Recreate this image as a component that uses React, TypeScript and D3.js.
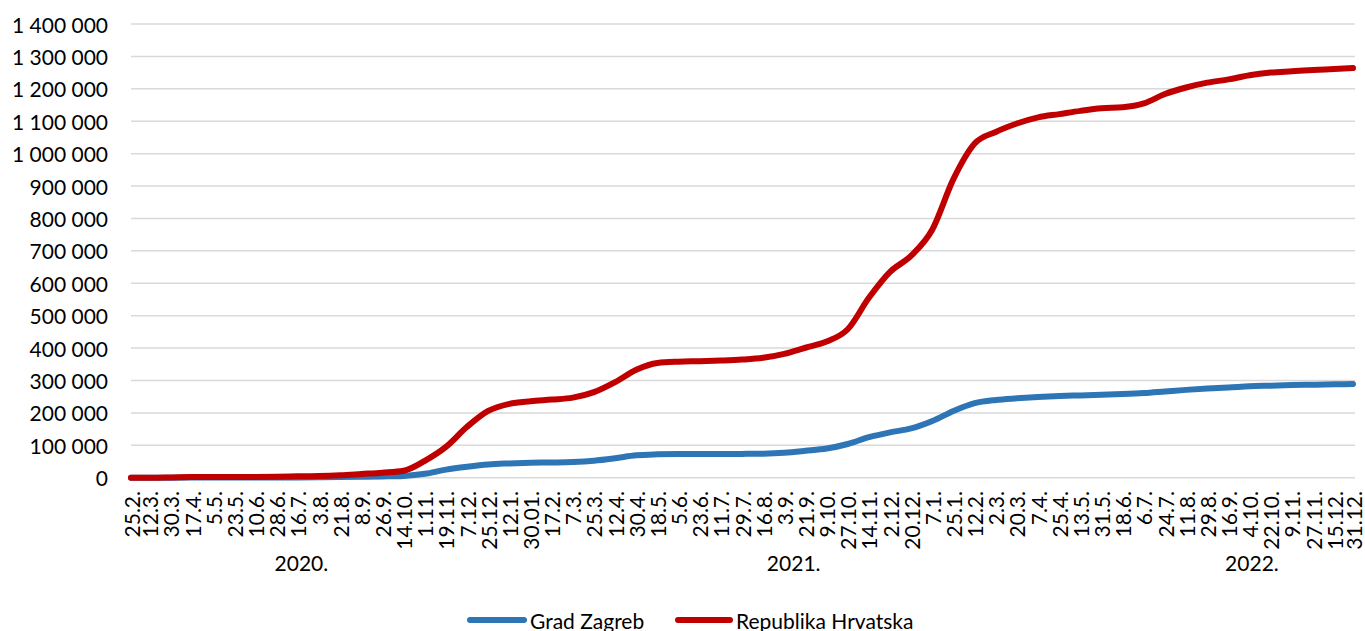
import * as d3 from 'd3';

// sample dates (same as the category tick labels)
const dates = [
  '2020-02-25', '2020-03-12', '2020-03-30', '2020-04-17', '2020-05-05', '2020-05-23',
  '2020-06-10', '2020-06-28', '2020-07-16', '2020-08-03', '2020-08-21', '2020-09-08',
  '2020-09-26', '2020-10-14', '2020-11-01', '2020-11-19', '2020-12-07', '2020-12-25',
  '2021-01-12', '2021-01-30', '2021-02-17', '2021-03-07', '2021-03-25', '2021-04-12',
  '2021-04-30', '2021-05-18', '2021-06-05', '2021-06-23', '2021-07-11', '2021-07-29',
  '2021-08-16', '2021-09-03', '2021-09-21', '2021-10-09', '2021-10-27', '2021-11-14',
  '2021-12-02', '2021-12-20', '2022-01-07', '2022-01-25', '2022-02-12', '2022-03-02',
  '2022-03-20', '2022-04-07', '2022-04-25', '2022-05-13', '2022-05-31', '2022-06-18',
  '2022-07-06', '2022-07-24', '2022-08-11', '2022-08-29', '2022-09-16', '2022-10-04',
  '2022-10-22', '2022-11-09', '2022-11-27', '2022-12-15', '2022-12-31',
];

const tickLabels = [
  '25.2.', '12.3.', '30.3.', '17.4.', '5.5.', '23.5.', '10.6.', '28.6.', '16.7.', '3.8.',
  '21.8.', '8.9.', '26.9.', '14.10.', '1.11.', '19.11.', '7.12.', '25.12.', '12.1.', '30.01.',
  '17.2.', '7.3.', '25.3.', '12.4.', '30.4.', '18.5.', '5.6.', '23.6.', '11.7.', '29.7.',
  '16.8.', '3.9.', '21.9.', '9.10.', '27.10.', '14.11.', '2.12.', '20.12.', '7.1.', '25.1.',
  '12.2.', '2.3.', '20.3.', '7.4.', '25.4.', '13.5.', '31.5.', '18.6.', '6.7.', '24.7.',
  '11.8.', '29.8.', '16.9.', '4.10.', '22.10.', '9.11.', '27.11.', '15.12.', '31.12.',
];

const zagreb = [
  0, 5, 180, 300, 330, 340, 350, 500, 900, 1300,
  1800, 2700, 3800, 5500, 12000, 25000, 34000, 41000, 44000, 46000,
  47000, 48500, 52500, 60000, 69000, 72000, 73000, 73000, 73200, 73500,
  74200, 77000, 83000, 90000, 104000, 125000, 140000, 152000, 175000, 206000,
  230000, 240000, 245000, 249000, 252000, 254000, 256000, 258000, 261000, 266000,
  271000, 275000, 278000, 282000, 284000, 286000, 287000, 288000, 289000,
];

const hrvatska = [
  0, 30, 800, 1900, 2100, 2240, 2270, 2800, 4100, 5200,
  7600, 11500, 15500, 21500, 52000, 95000, 157000, 206000, 228000, 236000,
  241000, 247000, 264000, 295000, 333000, 354000, 358000, 359500, 361500, 364500,
  370000, 382000, 401000, 420000, 458000, 555000, 635000, 685000, 766000, 922000,
  1031000, 1067000, 1093000, 1112000, 1122000, 1132000, 1140000, 1143000, 1155000, 1184000,
  1204000, 1219000, 1229000, 1242000, 1250000, 1254000, 1258000, 1261000, 1264000,
];

const years = ['2020.', '2021.', '2022.'];
const yearAnchors = ['2020-07-19', '2021-09-11', '2022-10-06'];

const seriesNames = ['Grad Zagreb', 'Republika Hrvatska'];
const colors = ['#2E75B6', '#C00000'];

const W = 1365;
const H = 631;
const FONT = 'Lato, "Noto Sans", sans-serif';

const parse = d3.timeParse('%Y-%m-%d');
const locale = d3.formatLocale({ decimal: ',', thousands: ' ', grouping: [3], currency: ['', ''] });
const fmt = locale.format(',');

export default function App() {
  const margin = { top: 24, right: 12, bottom: 154, left: 131 };
  const innerBottom = H - margin.bottom + 0.7;

  const parsed = dates.map(d => parse(d) as Date);

  const x = d3.scaleTime()
    .domain(d3.extent(parsed) as [Date, Date])
    .range([margin.left, 1353]);

  const y = d3.scaleLinear()
    .domain([0, 1400000])
    .range([innerBottom, margin.top]);

  const line = d3.line<[Date, number]>()
    .x(d => x(d[0]))
    .y(d => y(d[1]))
    .curve(d3.curveMonotoneX);

  const series = [zagreb, hrvatska].map(vals =>
    vals.map((v, i) => [parsed[i], v] as [Date, number]));

  return (
    <svg width={W} height={H} style={{ position: 'absolute', left: 0, top: 0, background: '#fff' }}
      fontFamily={FONT}>
      {/* gridlines */}
      {y.ticks(14).map(t => (
        <g key={t}>
          <line x1={margin.left} x2={1355} y1={y(t)} y2={y(t)}
            stroke="#d9d9d9" strokeWidth={1.5} />
          <text x={108} y={y(t)} textAnchor="end" dominantBaseline="central"
            fontSize={21} fill="#000">{fmt(t)}</text>
        </g>
      ))}

      {/* category labels */}
      {tickLabels.map((lab, i) => (
        <text key={lab + i} transform={`translate(${x(parsed[i])},491) rotate(-90)`}
          textAnchor="end" dominantBaseline="central" fontSize={21} fill="#000">{lab}</text>
      ))}

      {years.map((yr, i) => (
        <text key={yr} x={x(parse(yearAnchors[i]) as Date)} y={571} textAnchor="middle"
          fontSize={21} fill="#000">{yr}</text>
      ))}

      {/* lines */}
      {series.map((s, i) => (
        <path key={seriesNames[i]} d={line(s) ?? ''} fill="none" stroke={colors[i]}
          strokeWidth={6} strokeLinecap="round" strokeLinejoin="round" />
      ))}

      {/* legend */}
      <g>
        <line x1={470} x2={524} y1={620} y2={620} stroke={colors[0]} strokeWidth={6} strokeLinecap="round" />
        <text x={530} y={620} dominantBaseline="central" fontSize={21} fill="#000">{seriesNames[0]}</text>
        <line x1={678} x2={730} y1={620} y2={620} stroke={colors[1]} strokeWidth={6} strokeLinecap="round" />
        <text x={736} y={620} dominantBaseline="central" fontSize={21} fill="#000">{seriesNames[1]}</text>
      </g>
    </svg>
  );
}
